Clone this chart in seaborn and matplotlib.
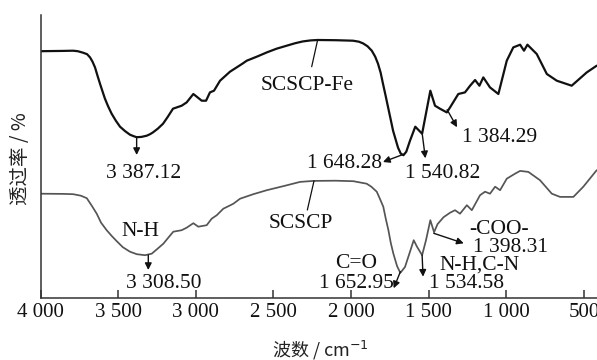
import matplotlib
matplotlib.use("Agg")
import matplotlib.pyplot as plt
import seaborn as sns
import pandas as pd

# SCSCP-Fe spectrum (wavenumber, transmittance in arbitrary units)
fe_wn = [4000, 3850, 3791, 3760, 3726, 3700, 3681, 3665, 3649, 3633, 3617, 3600, 3585, 3565,
         3542, 3515, 3488, 3455, 3424, 3400, 3381, 3350, 3316, 3295, 3276, 3245, 3211, 3180,
         3147, 3091, 3059, 3016, 2994, 2962, 2934, 2909, 2883, 2844, 2780, 2700, 2672, 2600,
         2543, 2480, 2415, 2360, 2310, 2260, 2215, 2100, 1988, 1950, 1923, 1895, 1867, 1845,
         1827, 1810, 1795, 1778, 1762, 1745, 1730, 1698, 1680, 1663, 1645, 1621,
         1587, 1543, 1490, 1460, 1428, 1384, 1363, 1310, 1267, 1234, 1202, 1174, 1149, 1106,
         1052, 998, 956, 912, 887, 865, 805, 740, 676, 580, 483, 419]
fe_t = [246.5, 246.8, 247, 246.5, 245, 243.5, 240.3, 236, 230.3, 222, 214, 206, 199, 191.5,
        184, 177, 171, 166.5, 163, 161.5, 160.5, 160.8, 162, 163.5, 165.3, 169, 174, 181,
        189, 192, 195.3, 203.7, 201, 197, 197, 205.3, 207, 217, 226, 234, 237, 241.5,
        245.3, 249, 252, 254.5, 256.3, 257.3, 257.7, 257.5, 257, 256, 254.3, 251.5, 247, 241,
        234, 225, 214, 202, 190.3, 178, 167, 150, 144, 142.5, 146, 157,
        171, 164, 207, 192, 189, 185.3, 190.3, 203.7, 205.3, 212, 217.7, 212, 220.3, 210.3,
        203.7, 237, 250.3, 253, 247, 253, 243.7, 223.7, 217, 212, 225.3, 232]

# SCSCP spectrum
sc_wn = [4000, 3850, 3789, 3740, 3702, 3670, 3638, 3610, 3574, 3540, 3509, 3470, 3424, 3380,
         3327, 3284, 3250, 3209, 3180, 3145, 3091, 3059, 3016,
         2984, 2930, 2898, 2865, 2823, 2790, 2758, 2715, 2630, 2543, 2430, 2329, 2243, 2100,
         1986, 1900, 1870, 1835, 1815, 1793, 1777,
         1760, 1745, 1728, 1704, 1683, 1653, 1621, 1597, 1576, 1543, 1518, 1490, 1466, 1444, 1405,
         1363, 1331, 1299, 1255, 1223, 1170, 1138, 1106, 1073, 1041, 998, 945, 912, 859, 784,
         708, 655, 569, 505, 419]
sc_t = [104, 103.8, 103.5, 102, 99.5, 92, 84, 75, 67.5, 61.5, 56.5, 50.5, 46, 43.5,
        42.5, 44, 48.5, 54, 59.5, 66, 67.5, 70, 74.5,
        71, 72.5, 79, 82.5, 89, 91.5, 94, 99, 103.5, 107.5, 111.8, 115.8, 116.8, 117,
        116.5, 114, 111, 106, 99, 91, 79,
        67.5, 55, 44, 31.5, 24.8, 30.8, 46, 57.5, 51, 42.5, 57.5, 77.5, 65.5, 73.5, 80.5,
        85, 87.5, 84, 92.5, 87.5, 102.5, 106, 104, 111, 107.5, 119, 124, 126.8, 125.8, 117.5,
        104, 100.8, 100.8, 111, 127.5]

x_ticks = [4000, 3500, 3000, 2500, 2000, 1500, 1000, 500]
x_ticklabels = ["4 000", "3 500", "3 000", "2 500", "2 000", "1 500", "1 000", "500"]

df = pd.concat([
    pd.DataFrame({"wn": fe_wn, "T": fe_t, "sample": "SCSCP-Fe"}),
    pd.DataFrame({"wn": sc_wn, "T": sc_t, "sample": "SCSCP"}),
])

sns.set_theme(style="white")
serif = "Liberation Serif"
cjk = ["Noto Sans CJK SC", "DejaVu Sans"]
plt.rcParams["font.family"] = [serif, "Noto Sans CJK SC"]

fig = plt.figure(figsize=(5.97, 3.6), dpi=100)
ax = fig.add_axes([40.5 / 597, 62.3 / 360, 1 - 40.5 / 597, 282.7 / 360])

sns.lineplot(data=df, x="wn", y="T", hue="sample",
             palette={"SCSCP-Fe": "#111111", "SCSCP": "#555555"},
             estimator=None, sort=True, ax=ax, legend=False)
for ln in ax.get_lines():
    ln.set_solid_joinstyle("round")
    ln.set_solid_capstyle("round")
    if ln.get_color() == "#111111":
        ln.set_linewidth(1.6)
    else:
        ln.set_linewidth(1.25)

ax.set_xlim(4000, 417)
ax.set_ylim(0, 282.7)
ax.set_xticks(x_ticks)
ax.set_xticklabels(x_ticklabels, fontsize=15, family=serif)
ax.set_yticks([])
ax.tick_params(axis="x", direction="in", length=6, width=1.1, color="#333333", pad=4,
               bottom=True, labelcolor="#111111")
for s in ("top", "right"):
    ax.spines[s].set_visible(False)
for s in ("left", "bottom"):
    ax.spines[s].set_color("#333333")
    ax.spines[s].set_linewidth(1.1)

ax.set_xlabel("")
ax.set_ylabel("")
fig.text(320 / 597, 1 - 350 / 360, "波数 / cm$^{-1}$", ha="center", va="center",
         fontsize=13, family=cjk, color="#222222")
fig.text(21 / 597, 1 - 159 / 360, "透过率 / %", ha="center", va="center",
         rotation=90, fontsize=14, family=cjk, color="#222222")

fs = 15.5
arr = dict(arrowstyle="-|>", color="#111111", lw=1.0, mutation_scale=10,
           shrinkA=0, shrinkB=0)
line = dict(arrowstyle="-", color="#111111", lw=0.9, shrinkA=0, shrinkB=0)

def ann(start, end, props=None):
    ax.annotate("", xy=end, xytext=start, arrowprops=props or arr)

def txt(x, y, s, ha="center"):
    ax.text(x, y, s, fontsize=fs, family=serif, ha=ha, va="center", color="#111111")

# upper spectrum annotations
ann((3381, 160.5), (3381, 142.7))
txt(3334, 124.7, "3 387.12")
ann((2215, 258.2), (2254, 231), props=line)
txt(2281, 212.7, "SCSCP-Fe")
ann((1661, 143.5), (1795, 135.7))
txt(1800, 134.7, "1 648.28", ha="right")
ann((1543, 164.7), (1522, 139.4))
txt(1408, 124.7, "1 540.82")
ann((1382, 188), (1318, 170.4))
txt(1044, 160.7, "1 384.29")

# lower spectrum annotations
txt(3359, 66.7, "N-H")
ann((3306, 42.7), (3306, 27.7))
txt(3205, 13.7, "3 308.50")
ann((2239, 116.8), (2282, 87.7), props=line)
txt(2323, 73.7, "SCSCP")
txt(1969, 33.7, "C=O")
ann((1683, 26), (1726, 9.4))
txt(1969, 13.7, "1 652.95")
txt(1176, 32.7, "N-H,C-N")
ann((1543, 42.7), (1537, 21))
txt(1260, 13.7, "1 534.58")
txt(1048, 68.7, "-COO-")
ann((1468, 64.4), (1275, 54.4))
txt(977, 50.7, "1 398.31")

fig.savefig("out.png", dpi=100)
